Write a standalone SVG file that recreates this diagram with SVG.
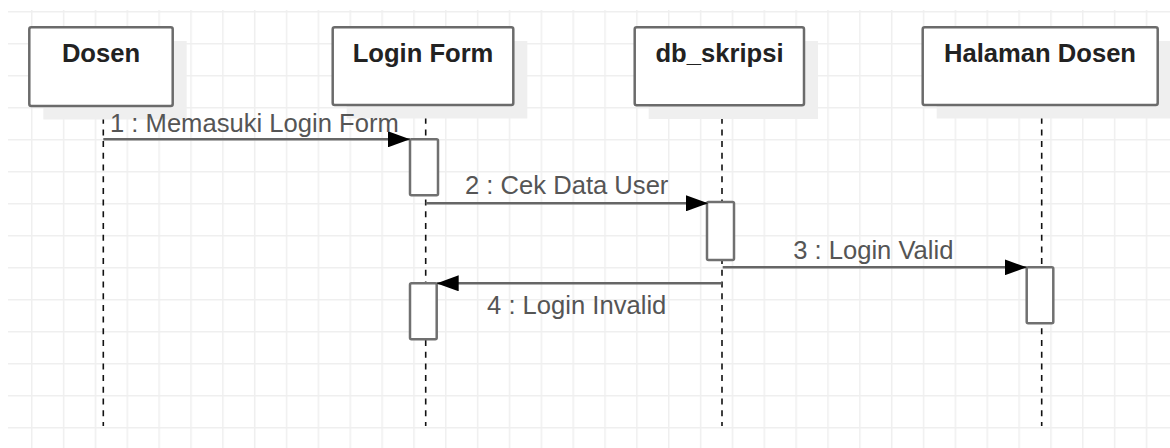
<svg xmlns="http://www.w3.org/2000/svg" width="1170" height="448" viewBox="0 0 1170 448">
  <defs>
    <pattern id="grid" patternUnits="userSpaceOnUse" x="31" y="11" width="31.85" height="32">
      <path d="M0.75 0V32M0 0.75H31.85" stroke="#efefef" stroke-width="1.5" fill="none"/>
    </pattern>
    <marker id="arrow" markerUnits="userSpaceOnUse" viewBox="0 0 22 16" refX="22" refY="8" markerWidth="22" markerHeight="16" orient="auto">
      <path d="M0 0L22 8L0 16Z" fill="#000"/>
    </marker>
    <style>
      .shadow { fill: #efefef; }
      .box { fill: #fff; stroke: #6b6b6b; stroke-width: 2.5; }
      .title { font-family: "Liberation Sans", Arial, sans-serif; font-weight: bold; font-size: 25.6px; fill: #222; text-anchor: middle; }
      .life { stroke: #111; stroke-width: 1.6; stroke-dasharray: 6 5.7; fill: none; }
      .act { fill: #fff; stroke: #707070; stroke-width: 2.5; }
      .msg { stroke: #666; stroke-width: 2.5; fill: none; marker-end: url(#arrow); }
      .lbl { font-family: "Liberation Sans", Arial, sans-serif; font-size: 25.6px; fill: #555; }
    </style>
  </defs>
  <rect x="0" y="0" width="1170" height="448" fill="#fff"/>
  <rect x="8" y="10" width="1162" height="438" fill="url(#grid)"/>

  <g id="lifelines">
    <line class="life" x1="103.3" y1="106" x2="103.3" y2="426"/>
    <line class="life" x1="425.7" y1="106" x2="425.7" y2="426"/>
    <line class="life" x1="722" y1="106" x2="722" y2="426"/>
    <line class="life" x1="1041.7" y1="106" x2="1041.7" y2="426"/>
  </g>

  <g id="node-dosen">
    <rect class="shadow" x="43.3" y="41" width="143.4" height="78.5"/>
    <rect class="box" x="29.3" y="27.3" width="143.4" height="78.7" rx="2"/>
    <text class="title" x="101" y="61.7">Dosen</text>
  </g>
  <g id="node-loginform">
    <rect class="shadow" x="346.7" y="41" width="180.6" height="77.5"/>
    <rect class="box" x="332.7" y="27.3" width="180.6" height="77.7" rx="2"/>
    <text class="title" x="423" y="61.7">Login Form</text>
  </g>
  <g id="node-dbskripsi">
    <rect class="shadow" x="648.7" y="41" width="169.3" height="78"/>
    <rect class="box" x="634.7" y="27.3" width="169.3" height="78" rx="2"/>
    <text class="title" x="719.5" y="61.7">db_skripsi</text>
  </g>
  <g id="node-halamandosen">
    <rect class="shadow" x="936.7" y="41" width="235" height="77.5"/>
    <rect class="box" x="922.7" y="27.3" width="235" height="77.7" rx="2"/>
    <text class="title" x="1040" y="61.7">Halaman Dosen</text>
  </g>

  <g id="activations">
    <rect class="act" x="410" y="139.3" width="28" height="56" rx="1.5"/>
    <rect class="act" x="707" y="202" width="27" height="58" rx="1.5"/>
    <rect class="act" x="1026.7" y="267.3" width="26.6" height="56" rx="1.5"/>
    <rect class="act" x="410" y="283.3" width="26.7" height="56" rx="1.5"/>
  </g>

  <g id="connectors">
    <line class="msg" x1="103.3" y1="139.3" x2="410" y2="139.3"/>
    <line class="msg" x1="425.7" y1="203.3" x2="708" y2="203.3"/>
    <line class="msg" x1="722.7" y1="267.3" x2="1026.7" y2="267.3"/>
    <line class="msg" x1="721.7" y1="283.3" x2="436.7" y2="283.3"/>
    <text class="lbl" x="110" y="131.7">1 : Memasuki Login Form</text>
    <text class="lbl" x="566.7" y="194.3" text-anchor="middle">2 : Cek Data User</text>
    <text class="lbl" x="873.3" y="259.3" text-anchor="middle">3 : Login Valid</text>
    <text class="lbl" x="576.7" y="314" text-anchor="middle">4 : Login Invalid</text>
  </g>
</svg>
